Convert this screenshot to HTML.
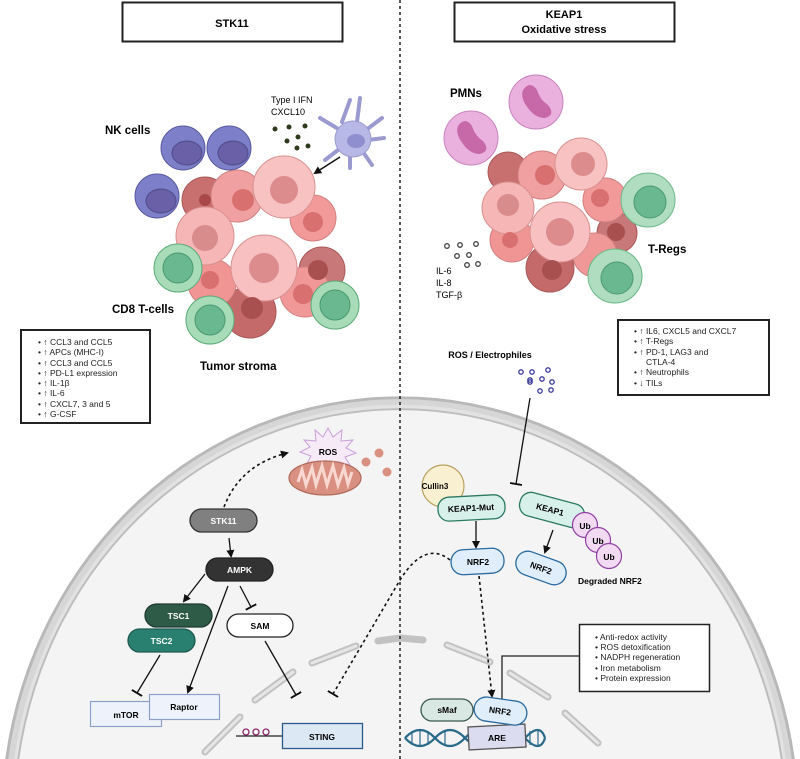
<!DOCTYPE html>
<html><head><meta charset="utf-8"><style>
html,body{margin:0;padding:0;background:#fff;width:800px;height:759px;overflow:hidden;}
svg{display:block;font-family:"Liberation Sans",Arial,sans-serif;overflow:hidden;}
.b{font-weight:bold;}
</style></head><body>
<svg width="800" height="759" viewBox="0 0 800 759" xmlns="http://www.w3.org/2000/svg">
<defs>
<marker id="ar" markerWidth="8" markerHeight="8" refX="6" refY="4" orient="auto" markerUnits="userSpaceOnUse"><path d="M0,0 L8,4 L0,8 z" fill="#111"/></marker>
<marker id="tb" markerWidth="2" markerHeight="12" refX="1" refY="6" orient="auto" markerUnits="userSpaceOnUse"><rect x="0" y="0" width="2" height="12" fill="#111"/></marker>
</defs>
<!-- cell -->
<path d="M5.2 759 A399 424 0 0 1 794.8 759 Z" fill="#b8b8b8"/>
<path d="M8.2 759 A396 421 0 0 1 791.8 759 Z" fill="#d6d6d6"/>
<path d="M14.2 759 A390 415 0 0 1 785.8 759 Z" fill="#e2e2e2"/>
<path d="M17.3 759 A387 412 0 0 1 782.7 759 Z" fill="#bdbdbd"/>
<path d="M19.3 759 A385 410 0 0 1 780.7 759 Z" fill="#f4f4f4"/>
<!-- nuclear envelope segments -->
<g stroke="#c2c2c2" stroke-width="7" stroke-linecap="round" fill="none">
<path d="M205 752 L240 717"/><path d="M255 700 L293 672"/><path d="M312 663 L356 646"/><path d="M378 641 L400 638"/>
<path d="M400 638 L423 640"/><path d="M447 645 L490 662"/><path d="M510 673 L548 697"/><path d="M565 713 L598 743"/>
</g>
<g stroke="#e6e6e6" stroke-width="3" stroke-linecap="round" fill="none">
<path d="M205 752 L240 717"/><path d="M255 700 L293 672"/><path d="M312 663 L356 646"/><path d="M447 645 L490 662"/><path d="M510 673 L548 697"/><path d="M565 713 L598 743"/>
</g>
<!-- divider -->
<line x1="400" y1="0" x2="400" y2="759" stroke="#222" stroke-width="1.5" stroke-dasharray="3,3"/>
<!-- title boxes -->
<rect x="122.5" y="2.5" width="220" height="39" fill="#fff" stroke="#222" stroke-width="2"/>
<text x="232" y="27" text-anchor="middle" class="b" font-size="11">STK11</text>
<rect x="454.5" y="2.5" width="220" height="39" fill="#fff" stroke="#222" stroke-width="2"/>
<text x="564" y="18" text-anchor="middle" class="b" font-size="11">KEAP1</text>
<text x="564" y="33" text-anchor="middle" class="b" font-size="11">Oxidative stress</text>

<!-- left tumor cluster -->
<g stroke-width="1">
<circle cx="205" cy="200" r="23" fill="#c87070" stroke="#a85858"/>
<circle cx="250" cy="312" r="26" fill="#c46a6a" stroke="#a85858"/>
<circle cx="322" cy="270" r="23" fill="#c87878" stroke="#a85858"/>
<circle cx="237" cy="196" r="26" fill="#f0a0a0" stroke="#d08080"/>
<circle cx="313" cy="218" r="23" fill="#f29a9a" stroke="#d08080"/>
<circle cx="212" cy="283" r="24" fill="#f09494" stroke="#d08080"/>
<circle cx="305" cy="292" r="25" fill="#f09898" stroke="#d08080"/>
<circle cx="205" cy="236" r="29" fill="#f6b6b6" stroke="#d89090"/>
<circle cx="284" cy="187" r="31" fill="#f8c2c2" stroke="#d89090"/>
<circle cx="264" cy="268" r="33" fill="#f8c0c0" stroke="#d89090"/>
<circle cx="205" cy="200" r="6" fill="#a84848"/>
<circle cx="243" cy="200" r="11" fill="#d87070"/>
<circle cx="313" cy="222" r="10" fill="#d87070"/>
<circle cx="205" cy="238" r="13" fill="#d88c8c"/>
<circle cx="284" cy="190" r="14" fill="#dc8c8c"/>
<circle cx="264" cy="268" r="15" fill="#dc8c8c"/>
<circle cx="318" cy="270" r="10" fill="#a85050"/>
<circle cx="252" cy="308" r="11" fill="#a85050"/>
<circle cx="303" cy="294" r="10" fill="#d87070"/>
<circle cx="210" cy="280" r="9" fill="#d87070"/>
</g>
<!-- NK cells -->
<g>
<circle cx="183" cy="148" r="22" fill="#7d80c8" stroke="#5a5aa0"/><ellipse cx="187" cy="153" rx="15" ry="12" fill="#6a60a8" stroke="#4e4a88"/>
<circle cx="229" cy="148" r="22" fill="#7d80c8" stroke="#5a5aa0"/><ellipse cx="233" cy="153" rx="15" ry="12" fill="#6a60a8" stroke="#4e4a88"/>
<circle cx="157" cy="196" r="22" fill="#7d80c8" stroke="#5a5aa0"/><ellipse cx="161" cy="201" rx="15" ry="12" fill="#6a60a8" stroke="#4e4a88"/>
</g>
<!-- dendritic -->
<g fill="#b8b8e6" stroke="#9a9ad0">
<path d="M340 130 L320 118 M342 122 L350 100 M357 122 L360 98 M366 130 L382 118 M368 140 L384 138 M363 152 L372 165 M350 156 L350 168 M338 150 L325 160" stroke-width="4" stroke-linecap="round"/>
<circle cx="353" cy="139" r="18"/>
</g>
<ellipse cx="356" cy="141" rx="9" ry="7" fill="#8f8fd0"/>
<g fill="#2e3a1e"><circle cx="275" cy="129" r="2.5"/><circle cx="289" cy="127" r="2.5"/><circle cx="305" cy="126" r="2.5"/><circle cx="298" cy="137" r="2.5"/><circle cx="287" cy="141" r="2.5"/><circle cx="297" cy="148" r="2.5"/><circle cx="308" cy="146" r="2.5"/></g>
<line x1="340" y1="157" x2="315" y2="173" stroke="#111" stroke-width="1.5" marker-end="url(#ar)"/>
<!-- CD8 -->
<g>
<circle cx="178" cy="268" r="24" fill="#a8dcb8" stroke="#5aaa78"/><circle cx="178" cy="268" r="15" fill="#6ab890" stroke="#4a9870"/>
<circle cx="210" cy="320" r="24" fill="#a8dcb8" stroke="#5aaa78"/><circle cx="210" cy="320" r="15" fill="#6ab890" stroke="#4a9870"/>
<circle cx="335" cy="305" r="24" fill="#a8dcb8" stroke="#5aaa78"/><circle cx="335" cy="305" r="15" fill="#6ab890" stroke="#4a9870"/>
</g>
<text x="105" y="134" class="b" font-size="11.5">NK cells</text>
<text x="271" y="103" font-size="9">Type I IFN</text>
<text x="271" y="115" font-size="9">CXCL10</text>
<text x="112" y="313" class="b" font-size="11.5">CD8 T-cells</text>
<text x="200" y="370" class="b" font-size="11.5">Tumor stroma</text>
<!-- left legend -->
<rect x="21" y="330" width="129" height="93" fill="#fff" stroke="#222" stroke-width="2"/>
<g font-size="8.5" fill="#222">
<text x="38" y="345">•  ↑ CCL3 and CCL5</text>
<text x="38" y="355">•  ↑ APCs (MHC-I)</text>
<text x="38" y="366">•  ↑ CCL3 and CCL5</text>
<text x="38" y="376">•  ↑ PD-L1 expression</text>
<text x="38" y="386">•  ↑ IL-1β</text>
<text x="38" y="396">•  ↑ IL-6</text>
<text x="38" y="407">•  ↑ CXCL7, 3 and 5</text>
<text x="38" y="417">•  ↑ G-CSF</text>
</g>

<!-- right tumor cluster -->
<g>
<circle cx="508" cy="172" r="20" fill="#c87070" stroke="#a85858"/>
<circle cx="550" cy="268" r="24" fill="#c46a6a" stroke="#a85858"/>
<circle cx="617" cy="233" r="20" fill="#c87878" stroke="#a85858"/>
<circle cx="542" cy="175" r="24" fill="#f0a0a0" stroke="#d08080"/>
<circle cx="605" cy="200" r="22" fill="#f29a9a" stroke="#d08080"/>
<circle cx="512" cy="240" r="22" fill="#f09494" stroke="#d08080"/>
<circle cx="595" cy="255" r="22" fill="#f09898" stroke="#d08080"/>
<circle cx="508" cy="208" r="26" fill="#f6b6b6" stroke="#d89090"/>
<circle cx="581" cy="164" r="26" fill="#f8c2c2" stroke="#d89090"/>
<circle cx="560" cy="232" r="30" fill="#f8c0c0" stroke="#d89090"/>
<circle cx="508" cy="205" r="11" fill="#d88c8c"/><circle cx="545" cy="175" r="10" fill="#d87070"/>
<circle cx="583" cy="164" r="12" fill="#dc8c8c"/><circle cx="560" cy="232" r="14" fill="#dc8c8c"/>
<circle cx="552" cy="270" r="10" fill="#a85050"/><circle cx="616" cy="232" r="9" fill="#a85050"/>
<circle cx="600" cy="198" r="9" fill="#d87070"/><circle cx="510" cy="240" r="8" fill="#d87070"/>
</g>
<!-- PMNs -->
<circle cx="536" cy="102" r="27" fill="#eab0de" stroke="#c884bc"/>
<path d="M523 90 Q530 80 537 90 Q540 100 548 105 Q556 115 545 118 Q535 118 528 108 Q520 98 523 90z" fill="#c768a8"/>
<circle cx="471" cy="138" r="27" fill="#eab0de" stroke="#c884bc"/>
<path d="M458 126 Q465 116 472 126 Q475 136 483 141 Q491 151 480 154 Q470 154 463 144 Q455 134 458 126z" fill="#c768a8"/>
<!-- T regs -->
<circle cx="648" cy="200" r="27" fill="#b0ddc0" stroke="#6ab888"/><circle cx="650" cy="202" r="16" fill="#6ab890" stroke="#4a9870"/>
<circle cx="615" cy="276" r="27" fill="#b0ddc0" stroke="#6ab888"/><circle cx="617" cy="278" r="16" fill="#6ab890" stroke="#4a9870"/>
<text x="450" y="97" class="b" font-size="11.5">PMNs</text>
<text x="648" y="253" class="b" font-size="11.5">T-Regs</text>
<g fill="none" stroke="#444" stroke-width="1.3"><circle cx="447" cy="246" r="2.3"/><circle cx="460" cy="245" r="2.3"/><circle cx="476" cy="244" r="2.3"/><circle cx="457" cy="256" r="2.3"/><circle cx="469" cy="255" r="2.3"/><circle cx="467" cy="265" r="2.3"/><circle cx="478" cy="264" r="2.3"/></g>
<text x="436" y="274" font-size="9">IL-6</text>
<text x="436" y="286" font-size="9">IL-8</text>
<text x="436" y="298" font-size="9">TGF-β</text>
<!-- right legend -->
<rect x="618" y="320" width="151" height="75" fill="#fff" stroke="#222" stroke-width="2"/>
<g font-size="8.5" fill="#222">
<text x="634" y="334">•  ↑ IL6, CXCL5 and CXCL7</text>
<text x="634" y="344">•  ↑ T-Regs</text>
<text x="634" y="355">•  ↑ PD-1, LAG3 and</text>
<text x="646" y="365">CTLA-4</text>
<text x="634" y="375">•  ↑ Neutrophils</text>
<text x="634" y="386">•  ↓ TILs</text>
</g>
<text x="490" y="358" class="b" font-size="9" text-anchor="middle">ROS / Electrophiles</text>
<g fill="none" stroke="#3a3a9a" stroke-width="1.3"><circle cx="521" cy="372" r="2.2"/><circle cx="532" cy="372" r="2.2"/><circle cx="548" cy="370" r="2.2"/><circle cx="530" cy="380" r="2.2"/><circle cx="542" cy="379" r="2.2"/><circle cx="530" cy="382" r="2.2"/><circle cx="540" cy="391" r="2.2"/><circle cx="551" cy="390" r="2.2"/><circle cx="552" cy="382" r="2.2"/></g>

<!-- mitochondria & ROS -->
<polygon points="328,428 333,437 342,430 341,441 353,440 346,448 356,453 345,457 350,465 338,462 334,470 328,462 320,470 318,461 306,465 311,456 300,452 310,447 304,440 316,441 315,430 323,437" fill="#f6eaf6" stroke="#c8a0d8" stroke-width="1"/>
<ellipse cx="325" cy="478" rx="36" ry="17" fill="#d99080" stroke="#b06a5a" stroke-width="1.2"/>
<path d="M298 482 L302 470 L306 485 L312 468 L316 485 L322 466 L327 485 L333 466 L338 485 L344 468 L348 484 L352 472" fill="none" stroke="#f8d8d0" stroke-width="3"/>
<circle cx="366" cy="462" r="4.5" fill="#d99080"/><circle cx="379" cy="453" r="4.5" fill="#d99080"/><circle cx="387" cy="472" r="4.5" fill="#d99080"/>
<text x="328" y="455" text-anchor="middle" class="b" font-size="8.5">ROS</text>
<path d="M224 507 Q240 465 287 453" fill="none" stroke="#111" stroke-width="1.6" stroke-dasharray="3,3" marker-end="url(#ar)"/>

<!-- left pathway -->
<g stroke="#111" stroke-width="1.3" fill="none">
<line x1="229" y1="538" x2="231" y2="556" marker-end="url(#ar)"/>
<line x1="205" y1="574" x2="184" y2="601" marker-end="url(#ar)"/>
<line x1="228" y1="586" x2="188" y2="692" marker-end="url(#ar)"/>
<line x1="240" y1="586" x2="251" y2="607" marker-end="url(#tb)"/>
<line x1="160" y1="655" x2="137" y2="693" marker-end="url(#tb)"/>
<line x1="265" y1="641" x2="296" y2="695" marker-end="url(#tb)"/>
</g>
<path d="M450 560 Q425 540 400 580 L333 694" fill="none" stroke="#111" stroke-width="1.6" stroke-dasharray="3,3" marker-end="url(#tb)"/>
<rect x="190" y="509" width="67" height="23" rx="11.5" fill="#808080" stroke="#333" stroke-width="1.3"/>
<text x="223.5" y="524" text-anchor="middle" fill="#fff" class="b" font-size="8.5">STK11</text>
<rect x="206" y="558" width="67" height="23" rx="11.5" fill="#333" stroke="#222" stroke-width="1.3"/>
<text x="239.5" y="573" text-anchor="middle" fill="#fff" class="b" font-size="8.5">AMPK</text>
<rect x="145" y="604" width="67" height="23" rx="11.5" fill="#2e5a48" stroke="#1e3a30" stroke-width="1.3"/>
<text x="178.5" y="619" text-anchor="middle" fill="#fff" class="b" font-size="8.5">TSC1</text>
<rect x="128" y="629" width="67" height="23" rx="11.5" fill="#2a8070" stroke="#1e5a50" stroke-width="1.3"/>
<text x="161.5" y="644" text-anchor="middle" fill="#fff" class="b" font-size="8.5">TSC2</text>
<rect x="227" y="614" width="66" height="23" rx="11.5" fill="#fff" stroke="#222" stroke-width="1.3"/>
<text x="260" y="629" text-anchor="middle" class="b" font-size="8.5">SAM</text>
<rect x="90.5" y="701.5" width="71" height="25" fill="#eef2fa" stroke="#8fa0c8" stroke-width="1.2"/>
<text x="126" y="718" text-anchor="middle" class="b" font-size="8.5">mTOR</text>
<rect x="149.5" y="694.5" width="70" height="25" fill="#eef2fa" stroke="#8fa0c8" stroke-width="1.2"/>
<text x="184" y="710" text-anchor="middle" class="b" font-size="8.5">Raptor</text>
<line x1="236" y1="736" x2="282" y2="736" stroke="#222" stroke-width="1.2"/>
<g fill="none" stroke="#8a2a6a" stroke-width="1.3"><circle cx="246" cy="732" r="3"/><circle cx="256" cy="732" r="3"/><circle cx="266" cy="732" r="3"/></g>
<rect x="282.5" y="723.5" width="80" height="25" fill="#dde8f5" stroke="#2a5a8a" stroke-width="1.3"/>
<text x="322" y="740" text-anchor="middle" class="b" font-size="8.5">STING</text>

<!-- right pathway -->
<line x1="530" y1="398" x2="516" y2="484" stroke="#111" stroke-width="1.3" marker-end="url(#tb)"/>
<line x1="476" y1="521" x2="476" y2="547" stroke="#111" stroke-width="1.3" marker-end="url(#ar)"/>
<line x1="553" y1="530" x2="545" y2="552" stroke="#111" stroke-width="1.3" marker-end="url(#ar)"/>
<line x1="479" y1="576" x2="492" y2="696" stroke="#111" stroke-width="1.6" stroke-dasharray="3,3" marker-end="url(#ar)"/>
<circle cx="443" cy="486" r="21" fill="#f8f0d0" stroke="#b8a060" stroke-width="1.2"/>
<text x="435" y="489" text-anchor="middle" class="b" font-size="8">Cullin3</text>
<rect x="438" y="496" width="67" height="24" rx="11" fill="#d8f0ea" stroke="#2a7a60" stroke-width="1.3" transform="rotate(-3 471 508)"/>
<text x="471" y="511" text-anchor="middle" class="b" font-size="8.5" transform="rotate(-3 471 508)">KEAP1-Mut</text>
<g transform="rotate(15 552 510)"><rect x="519" y="498" width="66" height="24" rx="11" fill="#d8f0ea" stroke="#2a7a60" stroke-width="1.3"/>
<text x="550" y="513" text-anchor="middle" class="b" font-size="8.5">KEAP1</text></g>
<g fill="#f2daf2" stroke="#9040a0" stroke-width="1.2"><circle cx="585" cy="525" r="12.5"/><circle cx="598" cy="540" r="12.5"/><circle cx="609" cy="556" r="12.5"/></g>
<g class="b" font-size="8.5" text-anchor="middle"><text x="585" y="529">Ub</text><text x="598" y="544">Ub</text><text x="609" y="560">Ub</text></g>
<rect x="451" y="549" width="53" height="25" rx="12" fill="#dfeefa" stroke="#2a6aa0" stroke-width="1.3" transform="rotate(-3 477 561)"/>
<text x="478" y="565" text-anchor="middle" class="b" font-size="8.5">NRF2</text>
<g transform="rotate(20 541 568)"><rect x="515" y="556" width="52" height="24" rx="12" fill="#dfeefa" stroke="#2a6aa0" stroke-width="1.3"/>
<text x="541" y="571" text-anchor="middle" class="b" font-size="8.5">NRF2</text></g>
<text x="578" y="584" class="b" font-size="8.5">Degraded NRF2</text>
<!-- legend 3 -->
<polyline points="579,656 502,656 502,700" fill="none" stroke="#222" stroke-width="1.3"/>
<rect x="579.5" y="624.5" width="130" height="67" fill="#fff" stroke="#222" stroke-width="1.5"/>
<g font-size="8.5" fill="#222">
<text x="595" y="640">•  Anti-redox activity</text>
<text x="595" y="650">•  ROS detoxification</text>
<text x="595" y="660">•  NADPH regeneration</text>
<text x="595" y="671">•  Iron metabolism</text>
<text x="595" y="681">•  Protein expression</text>
</g>
<!-- DNA -->
<g fill="none" stroke="#2a6a8a" stroke-width="2.2">
<path d="M405 738 Q420 722 435 738 T465 738 T495 738 T525 738 T545 738"/>
<path d="M405 738 Q420 754 435 738 T465 738 T495 738 T525 738 T545 738"/>
</g>
<g stroke="#2a6a8a" stroke-width="1.2"><line x1="412" y1="731" x2="412" y2="745"/><line x1="420" y1="729" x2="420" y2="747"/><line x1="428" y1="731" x2="428" y2="745"/><line x1="445" y1="731" x2="445" y2="745"/><line x1="530" y1="731" x2="530" y2="745"/><line x1="538" y1="731" x2="538" y2="745"/></g>
<rect x="421" y="699" width="52" height="22" rx="11" fill="#d9e8e2" stroke="#3a5a50" stroke-width="1.3"/>
<text x="447" y="713" text-anchor="middle" class="b" font-size="8.5">sMaf</text>
<rect x="468.5" y="725.5" width="57" height="23" fill="#dcdcf0" stroke="#555" stroke-width="1.3" transform="rotate(-3 497 737)"/>
<text x="497" y="741" text-anchor="middle" class="b" font-size="8.5">ARE</text>
<g transform="rotate(8 500 711)"><rect x="474" y="699" width="53" height="24" rx="12" fill="#dfeefa" stroke="#2a6aa0" stroke-width="1.3"/>
<text x="500" y="714" text-anchor="middle" class="b" font-size="8.5">NRF2</text></g>
</svg>
</body></html>
